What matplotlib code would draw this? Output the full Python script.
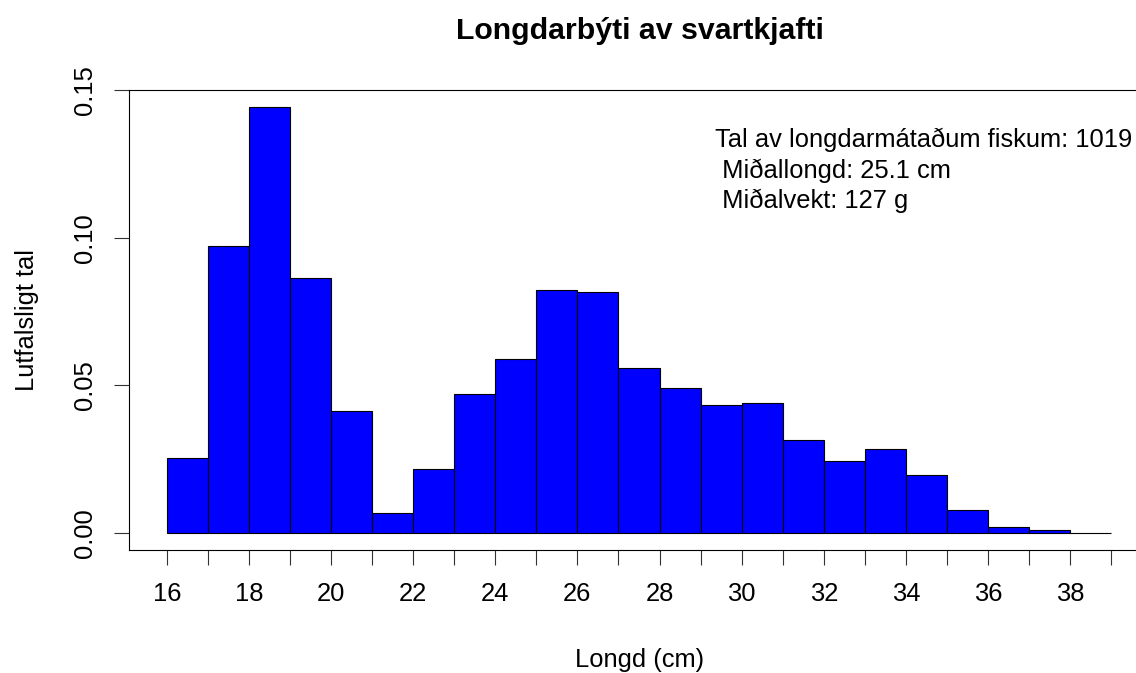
import numpy as np
import matplotlib
matplotlib.use('Agg')
import matplotlib.pyplot as plt

plt.rcParams['font.family'] = ['Liberation Sans', 'DejaVu Sans']

# Histogram data: 1 cm length bins, counts (n = 1019)
bin_edges = np.arange(16, 40)
counts = [26, 99, 147, 88, 42, 7, 22, 48, 60, 84, 83,
          57, 50, 44, 45, 32, 25, 29, 20, 8, 2, 1, 0]
proportions = np.array(counts) / 1019

xtick_pos = list(range(16, 40))
xtick_labels = [str(v) if v % 2 == 0 and v < 39 else '' for v in xtick_pos]
ytick_pos = [0.00, 0.05, 0.10, 0.15]
ytick_labels = ['0.00', '0.05', '0.10', '0.15']

info_text = ('Tal av longdarmátaðum fiskum: 1019\n'
             ' Miðallongd: 25.1 cm\n'
             ' Miðalvekt: 127 g')

W, H = 1136, 673
fs = 18.4
fig = plt.figure(figsize=(W / 100, H / 100), dpi=100)
ax = fig.add_axes([129 / W, (H - 550) / H, 1020 / W, 460 / H])

ax.bar(bin_edges[:-1], proportions, width=1.0, align='edge',
       color='#0000FF', edgecolor='black', linewidth=0.8)

ax.set_xlim(15.08, 39.92)
ax.set_ylim(-0.00577, 0.150)

for s in ax.spines.values():
    s.set_linewidth(0.8)
    s.set_color('black')

ax.set_xticks(xtick_pos)
ax.set_xticklabels(xtick_labels)
ax.set_yticks(ytick_pos)
ax.set_yticklabels(ytick_labels, rotation=90, va='center')
ax.tick_params(axis='both', direction='out', length=10.8, width=0.8,
               color='#333333', labelsize=fs)
ax.tick_params(axis='x', pad=12)
ax.tick_params(axis='y', pad=12)

ax.text(29.35, 0.1227, info_text, fontsize=fs, ha='left', va='center',
        linespacing=1.31)

fig.text(640 / W, (H - 39) / H, 'Longdarbýti av svartkjafti',
         fontsize=21.8, fontweight='bold', ha='center', va='baseline')
fig.text(640 / W, (H - 667) / H, 'Longd (cm)', fontsize=fs,
         ha='center', va='baseline')
fig.text(27 / W, (H - 320) / H, 'Lutfalsligt tal', fontsize=fs, rotation=90,
         ha='center', va='center')

fig.savefig('out.png', dpi=100)
